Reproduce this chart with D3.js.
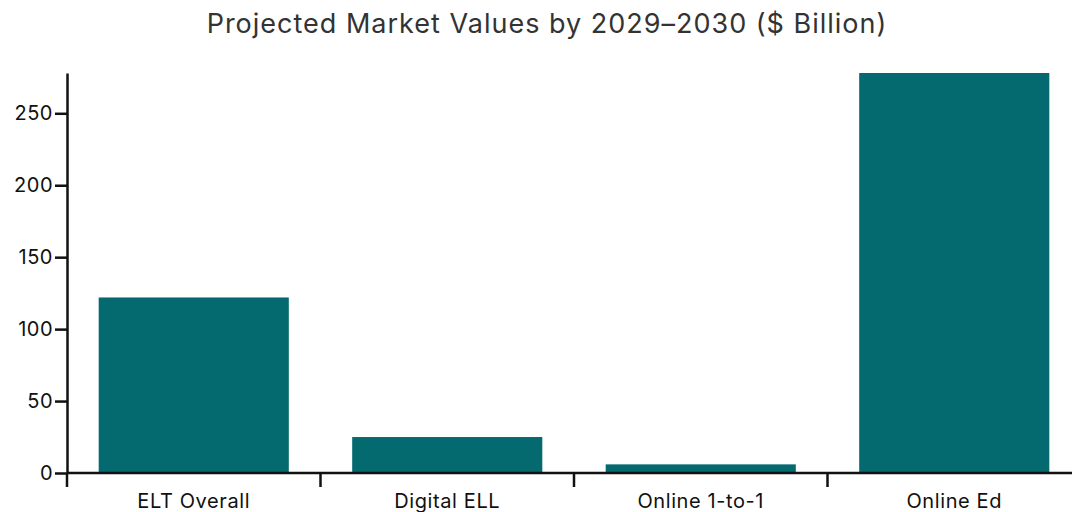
<!DOCTYPE html>
<html>
<head>
<meta charset="utf-8">
<script src="https://cdn.jsdelivr.net/npm/d3@7"></script>
<style>
  body { margin: 0; background: #fff; }
  text { font-family: Inter, "Open Sans", sans-serif; }
</style>
</head>
<body>
<div id="chart"></div>
<script>
const categories = ["ELT Overall", "Digital ELL", "Online 1-to-1", "Online Ed"];
const values = [122, 25, 6, 278];
const yTicks = [0, 50, 100, 150, 200, 250];

const svgWidth = 1072;
const svgHeight = 512;
const margins = {top: 73, right: -9, bottom: 39, left: 67};
const chartWidth = svgWidth - margins.left - margins.right;
const chartHeight = svgHeight - margins.top - margins.bottom;

const svg = d3.select("#chart")
    .append("svg")
    .attr("width", svgWidth)
    .attr("height", svgHeight);

svg.append("text")
    .attr("x", 547)
    .attr("y", 33)
    .attr("text-anchor", "middle")
    .attr("font-size", 27)
    .attr("letter-spacing", 1)
    .style("fill", "#333")
    .text("Projected Market Values by 2029\u20132030 ($ Billion)");

const g = svg.append("g")
    .attr("transform", `translate(${margins.left}, ${margins.top})`);

const xScale = d3.scaleBand()
    .domain(categories)
    .range([0, chartWidth])
    .paddingInner(0.25)
    .paddingOuter(0.125);

const yScale = d3.scaleLinear()
    .domain([0, d3.max(values)])
    .range([chartHeight, 0]);

g.selectAll(".bar")
    .data(values)
    .enter()
    .append("rect")
    .attr("class", "bar")
    .attr("x", (d, i) => xScale(categories[i]))
    .attr("y", d => yScale(d))
    .attr("width", xScale.bandwidth())
    .attr("height", d => chartHeight - yScale(d))
    .style("fill", "#046A70");

// y axis
const yAxis = g.append("g")
    .call(d3.axisLeft(yScale).tickValues(yTicks).tickSize(12).tickPadding(2).tickSizeOuter(0));
yAxis.select(".domain").attr("stroke-width", 2.5).attr("stroke", "#111");
yAxis.selectAll(".tick line").attr("stroke-width", 2.5).attr("stroke", "#111");
yAxis.selectAll(".tick text").attr("font-size", 20).attr("letter-spacing", 0.5).style("fill", "#111")
    .style("font-family", "Inter, sans-serif");

// x axis: line plus boundary ticks between categories
const xg = g.append("g").attr("transform", `translate(0, ${chartHeight})`);
xg.append("line")
    .attr("x1", 0).attr("x2", chartWidth)
    .attr("stroke", "#111").attr("stroke-width", 2.5);
const step = xScale.step();
const bounds = categories.map((c, i) => xScale(c) - step * xScale.paddingInner() / 2);
xg.selectAll(".bound")
    .data(bounds)
    .enter()
    .append("line")
    .attr("x1", d => d).attr("x2", d => d)
    .attr("y1", 0).attr("y2", 14)
    .attr("stroke", "#111").attr("stroke-width", 2.5);
xg.selectAll(".xlabel")
    .data(categories)
    .enter()
    .append("text")
    .attr("x", d => xScale(d) + xScale.bandwidth() / 2)
    .attr("y", 35)
    .attr("text-anchor", "middle")
    .attr("font-size", 20)
    .attr("letter-spacing", 0.6)
    .style("fill", "#111")
    .text(d => d);
</script>
</body>
</html>
